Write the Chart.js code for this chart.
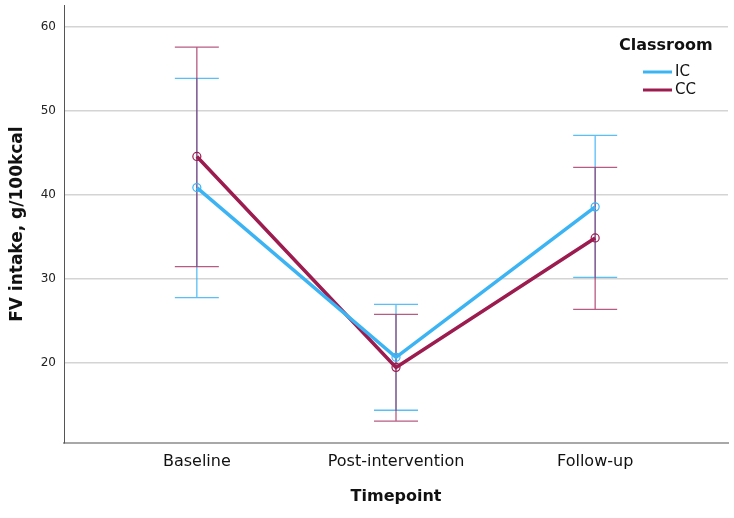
<!DOCTYPE html>
<html>
<head>
<meta charset="utf-8">
<script src="https://cdn.jsdelivr.net/npm/chart.js@4/dist/chart.umd.min.js"></script>
<style>
  html, body { margin: 0; padding: 0; background: #fff; }
  #wrap { width: 734px; height: 518px; }
</style>
</head>
<body>
<div id="wrap"><canvas id="chart"></canvas></div>
<script>
// Chart data
var timepoints = ['Baseline', 'Post-intervention', 'Follow-up'];
var groupNames = ['IC', 'CC'];
var icMean  = [40.9, 20.7, 38.6];
var icLower = [27.8, 14.4, 30.2];
var icUpper = [53.9, 27.0, 47.1];
var ccMean  = [44.6, 19.5, 34.9];
var ccLower = [31.5, 13.1, 26.4];
var ccUpper = [57.6, 25.8, 43.3];
var yTicks  = [20, 30, 40, 50, 60];

var icColor = '#3cb4f4';
var ccColor = '#9c1c50';
var fontFam = '"DejaVu Sans", sans-serif';

function toPoints(values) {
    return values.map(function (v, i) { return { x: i, y: v }; });
}

// Draw the error bars (whiskers + caps) using the chart scales
var errorBarPlugin = {
    id: 'errorBars',
    beforeDatasetsDraw: function (chart) {
        var ctx = chart.ctx;
        var xs = chart.scales.x, ys = chart.scales.y;
        var sets = [
            { lo: icLower, hi: icUpper, color: 'rgba(60,180,244,0.85)' },
            { lo: ccLower, hi: ccUpper, color: 'rgba(156,28,80,0.72)' }
        ];
        ctx.save();
        ctx.lineWidth = 1.3;
        sets.forEach(function (s) {
            ctx.strokeStyle = s.color;
            s.lo.forEach(function (lo, i) {
                var x = xs.getPixelForValue(i);
                var yLo = ys.getPixelForValue(lo);
                var yHi = ys.getPixelForValue(s.hi[i]);
                var half = 22;
                ctx.beginPath();
                ctx.moveTo(x, yLo); ctx.lineTo(x, yHi);
                ctx.moveTo(x - half, yLo); ctx.lineTo(x + half, yLo);
                ctx.moveTo(x - half, yHi); ctx.lineTo(x + half, yHi);
                ctx.stroke();
            });
        });
        ctx.restore();
    }
};

// Legend with a title in the top right of the plot
var legendPlugin = {
    id: 'classLegend',
    afterDraw: function (chart) {
        var ctx = chart.ctx;
        ctx.save();
        ctx.fillStyle = '#111';
        ctx.textBaseline = 'middle';
        ctx.textAlign = 'left';
        ctx.font = 'bold 16px ' + fontFam;
        ctx.fillText('Classroom', 619, 46);
        ctx.font = '15px ' + fontFam;
        var colors = [icColor, ccColor];
        groupNames.forEach(function (name, i) {
            var y = 72 + i * 18;
            ctx.strokeStyle = colors[i];
            ctx.lineWidth = 3;
            ctx.beginPath();
            ctx.moveTo(643, y); ctx.lineTo(672, y);
            ctx.stroke();
            ctx.fillStyle = '#111';
            ctx.fillText(name, 675, y);
        });
        ctx.restore();
    }
};

new Chart(document.getElementById('chart'), {
    type: 'line',
    data: {
        datasets: [
            {
                label: groupNames[0],
                data: toPoints(icMean),
                borderColor: icColor,
                backgroundColor: icColor,
                borderWidth: 3.5,
                pointRadius: 4,
                pointBorderWidth: 1.2,
                pointBackgroundColor: 'rgba(255,255,255,0)',
                pointBorderColor: icColor
            },
            {
                label: groupNames[1],
                data: toPoints(ccMean),
                borderColor: ccColor,
                backgroundColor: ccColor,
                borderWidth: 3.5,
                pointRadius: 4,
                pointBorderWidth: 1.2,
                pointBackgroundColor: 'rgba(255,255,255,0)',
                pointBorderColor: ccColor
            }
        ]
    },
    options: {
        responsive: true,
        maintainAspectRatio: false,
        animation: false,
        layout: { padding: { top: 0, right: 6, left: 0, bottom: 0 } },
        plugins: {
            legend: { display: false },
            tooltip: { enabled: false }
        },
        scales: {
            x: {
                type: 'linear',
                min: -0.667,
                max: 2.667,
                afterBuildTicks: function (scale) {
                    scale.ticks = timepoints.map(function (t, i) { return { value: i }; });
                },
                afterFit: function (scale) {
                    scale.height = 75;
                    scale.paddingLeft = 0;
                    scale.paddingRight = 0;
                },
                grid: { display: false, drawTicks: false },
                border: { display: true, color: '#a8a8a8', width: 2 },
                ticks: {
                    padding: 9,
                    color: '#111',
                    font: { family: fontFam, size: 16 },
                    callback: function (v) { return timepoints[v]; }
                },
                title: {
                    display: true,
                    text: 'Timepoint',
                    color: '#111',
                    font: { family: fontFam, size: 16, weight: 'bold' },
                    padding: { top: 0, bottom: 12 }
                }
            },
            y: {
                min: 10.5,
                max: 62.6,
                afterBuildTicks: function (scale) {
                    scale.ticks = yTicks.map(function (v) { return { value: v }; });
                },
                afterFit: function (scale) {
                    scale.width = 64;
                    scale.paddingTop = 0;
                    scale.paddingBottom = 0;
                },
                grid: { color: '#d4d4d4', lineWidth: 1.5, drawTicks: false },
                border: { display: true, color: '#555', width: 1 },
                ticks: {
                    padding: 8,
                    color: '#222',
                    font: { family: fontFam, size: 12 }
                },
                title: {
                    display: true,
                    text: 'FV intake, g/100kcal',
                    color: '#111',
                    font: { family: fontFam, size: 17, weight: 'bold' },
                    padding: { top: 7, bottom: 0 }
                }
            }
        }
    },
    plugins: [errorBarPlugin, legendPlugin]
});
</script>
</body>
</html>
